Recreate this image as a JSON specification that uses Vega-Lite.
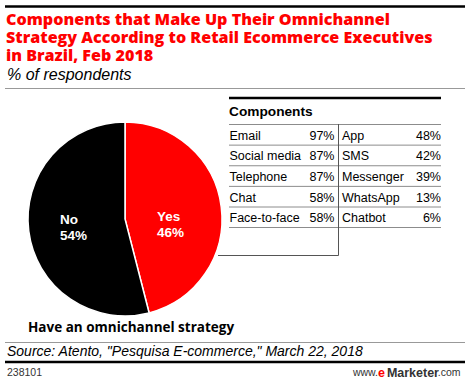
{
  "$schema": "https://vega.github.io/schema/vega-lite/v6.json",
  "width": 470,
  "height": 383,
  "autosize": {"type": "fit", "contains": "padding"},
  "padding": 0,
  "background": "white",
  "config": {"view": {"stroke": null}, "font": "Liberation Sans"},
  "data": {"values": [{}]},
  "datasets": {
    "pie": [
      {"answer": "Yes", "share": 0.46, "order": 1},
      {"answer": "No", "share": 0.54, "order": 2}
    ],
    "components": [
      {"component": "Email", "share": 0.97, "row": 1, "col": 1},
      {"component": "Social media", "share": 0.87, "row": 2, "col": 1},
      {"component": "Telephone", "share": 0.87, "row": 3, "col": 1},
      {"component": "Chat", "share": 0.58, "row": 4, "col": 1},
      {"component": "Face-to-face", "share": 0.58, "row": 5, "col": 1},
      {"component": "App", "share": 0.48, "row": 1, "col": 2},
      {"component": "SMS", "share": 0.42, "row": 2, "col": 2},
      {"component": "Messenger", "share": 0.39, "row": 3, "col": 2},
      {"component": "WhatsApp", "share": 0.13, "row": 4, "col": 2},
      {"component": "Chatbot", "share": 0.06, "row": 5, "col": 2}
    ]
  },
  "layer": [
    {
      "mark": {"type": "rule", "color": "#000000", "strokeWidth": 2.5},
      "encoding": {"x": {"value": 5}, "x2": {"value": 465}, "y": {"value": 6.5}}
    },
    {
      "mark": {"type": "text", "align": "left", "baseline": "middle", "font": "Open Sans", "fontSize": 16.1, "fontWeight": 800, "color": "#ff0000"},
      "encoding": {"x": {"value": 6}, "y": {"value": 20}, "text": {"value": "Components that Make Up Their Omnichannel"}}
    },
    {
      "mark": {"type": "text", "align": "left", "baseline": "middle", "font": "Open Sans", "fontSize": 16.1, "fontWeight": 800, "color": "#ff0000"},
      "encoding": {"x": {"value": 6}, "y": {"value": 38}, "text": {"value": "Strategy According to Retail Ecommerce Executives"}}
    },
    {
      "mark": {"type": "text", "align": "left", "baseline": "middle", "font": "Open Sans", "fontSize": 16.1, "fontWeight": 800, "color": "#ff0000"},
      "encoding": {"x": {"value": 6}, "y": {"value": 55.5}, "text": {"value": "in Brazil, Feb 2018"}}
    },
    {
      "mark": {"type": "text", "align": "left", "baseline": "middle", "fontSize": 16, "fontStyle": "italic", "color": "#000000"},
      "encoding": {"x": {"value": 7}, "y": {"value": 75}, "text": {"value": "% of respondents"}}
    },
    {
      "mark": {"type": "rule", "color": "#999999", "strokeWidth": 1},
      "encoding": {"x": {"value": 5}, "x2": {"value": 465}, "y": {"value": 88.5}}
    },
    {
      "data": {"name": "pie"},
      "mark": {"type": "arc", "outerRadius": 97, "stroke": "#ffffff", "strokeWidth": 1.5},
      "encoding": {
        "theta": {"field": "share", "type": "quantitative", "stack": true},
        "order": {"field": "order", "type": "quantitative"},
        "color": {"field": "answer", "type": "nominal", "scale": {"domain": ["Yes", "No"], "range": ["#ff0000", "#000000"]}, "legend": null},
        "x": {"value": 125},
        "y": {"value": 219}
      }
    },
    {
      "data": {"name": "pie"},
      "mark": {"type": "text", "align": "left", "baseline": "middle", "fontSize": 13.5, "fontWeight": "bold", "color": "#ffffff"},
      "encoding": {
        "x": {"field": "answer", "type": "ordinal", "scale": {"type": "point", "domain": ["No", "Yes"], "range": [60, 157], "padding": 0}, "axis": null},
        "y": {"field": "answer", "type": "ordinal", "scale": {"type": "point", "domain": ["No", "Yes"], "range": [220, 217], "padding": 0}, "axis": null},
        "text": {"field": "answer", "type": "nominal"}
      }
    },
    {
      "data": {"name": "pie"},
      "mark": {"type": "text", "align": "left", "baseline": "middle", "fontSize": 13.5, "fontWeight": "bold", "color": "#ffffff"},
      "encoding": {
        "x": {"field": "answer", "type": "ordinal", "scale": {"type": "point", "domain": ["No", "Yes"], "range": [60, 157], "padding": 0}, "axis": null},
        "y": {"field": "answer", "type": "ordinal", "scale": {"type": "point", "domain": ["No", "Yes"], "range": [235.5, 232.5], "padding": 0}, "axis": null},
        "text": {"field": "share", "type": "quantitative", "format": ".0%"}
      }
    },
    {
      "mark": {"type": "rule", "color": "#000000", "strokeWidth": 2.5},
      "encoding": {"x": {"value": 229}, "x2": {"value": 441}, "y": {"value": 98}}
    },
    {
      "mark": {"type": "text", "align": "left", "baseline": "middle", "fontSize": 13.7, "fontWeight": "bold", "color": "#000000"},
      "encoding": {"x": {"value": 229}, "y": {"value": 112}, "text": {"value": "Components"}}
    },
    {
      "data": {"name": "components"},
      "transform": [{"filter": "datum.col == 1"}],
      "mark": {"type": "rule", "color": "#8c8c8c", "strokeWidth": 1},
      "encoding": {
        "y": {"field": "row", "type": "quantitative", "scale": {"domain": [1, 5], "range": [124.5, 207], "zero": false, "nice": false}, "axis": null},
        "x": {"value": 229},
        "x2": {"value": 441}
      }
    },
    {
      "mark": {"type": "rule", "color": "#8c8c8c", "strokeWidth": 1},
      "encoding": {"x": {"value": 229}, "x2": {"value": 441}, "y": {"value": 227.5}}
    },
    {
      "mark": {"type": "rule", "color": "#555555", "strokeWidth": 1},
      "encoding": {"x": {"value": 338.5}, "y": {"value": 124}, "y2": {"value": 255.5}}
    },
    {
      "mark": {"type": "rule", "color": "#555555", "strokeWidth": 1},
      "encoding": {"x": {"value": 218}, "x2": {"value": 338.5}, "y": {"value": 255.5}}
    },
    {
      "data": {"name": "components"},
      "mark": {"type": "text", "align": "left", "baseline": "middle", "fontSize": 12.5, "color": "#000000"},
      "encoding": {
        "x": {"field": "col", "type": "quantitative", "scale": {"domain": [1, 2], "range": [229.5, 342], "zero": false, "nice": false}, "axis": null},
        "y": {"field": "row", "type": "quantitative", "scale": {"domain": [1, 5], "range": [135.7, 218.3], "zero": false, "nice": false}, "axis": null},
        "text": {"field": "component", "type": "nominal"}
      }
    },
    {
      "data": {"name": "components"},
      "mark": {"type": "text", "align": "right", "baseline": "middle", "fontSize": 12.5, "color": "#000000"},
      "encoding": {
        "x": {"field": "col", "type": "quantitative", "scale": {"domain": [1, 2], "range": [334.5, 441], "zero": false, "nice": false}, "axis": null},
        "y": {"field": "row", "type": "quantitative", "scale": {"domain": [1, 5], "range": [135.7, 218.3], "zero": false, "nice": false}, "axis": null},
        "text": {"field": "share", "type": "quantitative", "format": ".0%"}
      }
    },
    {
      "mark": {"type": "text", "align": "left", "baseline": "middle", "font": "Open Sans", "fontSize": 13.5, "fontWeight": "bold", "color": "#000000"},
      "encoding": {"x": {"value": 28}, "y": {"value": 328}, "text": {"value": "Have an omnichannel strategy"}}
    },
    {
      "mark": {"type": "rule", "color": "#999999", "strokeWidth": 1},
      "encoding": {"x": {"value": 5}, "x2": {"value": 465}, "y": {"value": 342.5}}
    },
    {
      "mark": {"type": "text", "align": "left", "baseline": "middle", "fontSize": 14, "fontStyle": "italic", "color": "#000000"},
      "encoding": {"x": {"value": 7}, "y": {"value": 352}, "text": {"value": "Source: Atento, \"Pesquisa E-commerce,\" March 22, 2018"}}
    },
    {
      "mark": {"type": "rule", "color": "#000000", "strokeWidth": 2.5},
      "encoding": {"x": {"value": 5}, "x2": {"value": 465}, "y": {"value": 362}}
    },
    {
      "mark": {"type": "text", "align": "left", "baseline": "middle", "fontSize": 10.5, "color": "#333333"},
      "encoding": {"x": {"value": 7}, "y": {"value": 373}, "text": {"value": "238101"}}
    },
    {
      "mark": {"type": "text", "align": "right", "baseline": "middle", "fontSize": 10.5, "color": "#333333"},
      "encoding": {"x": {"value": 460.5}, "y": {"value": 373}, "text": {"value": ".com"}}
    },
    {
      "mark": {"type": "text", "align": "right", "baseline": "middle", "fontSize": 12.5, "fontWeight": "bold", "color": "#333333"},
      "encoding": {"x": {"value": 439}, "y": {"value": 373}, "text": {"value": "Marketer"}}
    },
    {
      "mark": {"type": "text", "align": "right", "baseline": "middle", "fontSize": 12.5, "fontWeight": "bold", "color": "#ff0000"},
      "encoding": {"x": {"value": 385}, "y": {"value": 373}, "text": {"value": "e"}}
    },
    {
      "mark": {"type": "text", "align": "right", "baseline": "middle", "fontSize": 10.5, "color": "#333333"},
      "encoding": {"x": {"value": 378}, "y": {"value": 373}, "text": {"value": "www."}}
    }
  ],
  "resolve": {"scale": {"x": "independent", "y": "independent", "theta": "independent", "color": "independent"}}
}
